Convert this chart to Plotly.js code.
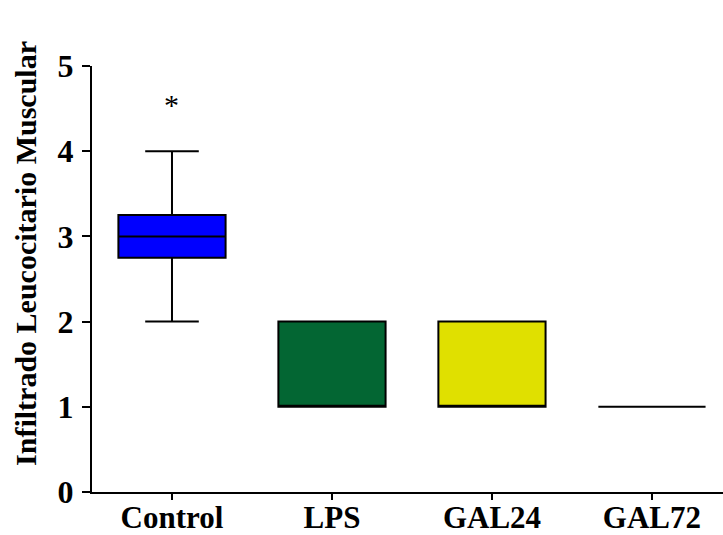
<!DOCTYPE html>
<html>
<head>
<meta charset="utf-8">
<script src="https://cdn.plot.ly/plotly-3.0.1.min.js"></script>
<style>html,body{margin:0;padding:0;background:#fff;}#chart{width:723px;height:535px;}</style>
</head>
<body>
<div id="chart"></div>
<script>
const categories = ["Control", "LPS", "GAL24", "GAL72"];
const lowerFence = [2, 1, 1, 1];
const q1Values = [2.75, 1, 1, 1];
const medianValues = [3, 1, 1, 1];
const q3Values = [3.25, 2, 2, 1];
const upperFence = [4, 2, 2, 1];
const fillColors = ["#0000ff", "#036633", "#e0e000", "#ffffff"];
const yTicks = [0, 1, 2, 3, 4, 5];
const starLabel = "*";
const starY = 4.55;

const font = {family: "Liberation Serif, Times New Roman, serif", color: "#000000"};

const traces = categories.map((c, i) => ({
  type: "box",
  x: [c],
  q1: [q1Values[i]],
  median: [medianValues[i]],
  q3: [q3Values[i]],
  lowerfence: [lowerFence[i]],
  upperfence: [upperFence[i]],
  fillcolor: fillColors[i],
  line: {color: "#000", width: 2},
  width: 0.67,
  whiskerwidth: 0.5,
  boxpoints: false,
  hoverinfo: "skip",
  showlegend: false
}));

const layout = {
  width: 723, height: 535,
  margin: {l: 92, r: 0, t: 66, b: 43},
  paper_bgcolor: "#fff", plot_bgcolor: "#fff",
  showlegend: false,
  xaxis: {
    type: "category",
    categoryarray: categories,
    range: [-0.5, 3.444],
    showline: true, linecolor: "#000", linewidth: 2,
    ticks: "outside", ticklen: 6, tickwidth: 2, tickcolor: "#000",
    ticklabelstandoff: -9,
    showgrid: false, zeroline: false,
    tickfont: Object.assign({size: 31, weight: "bold"}, font),
    fixedrange: true
  },
  yaxis: {
    range: [0, 5],
    tickvals: yTicks,
    showline: true, linecolor: "#000", linewidth: 2,
    ticks: "outside", ticklen: 8, tickwidth: 2, tickcolor: "#000",
    ticklabelstandoff: 2,
    showgrid: false, zeroline: false,
    tickfont: Object.assign({size: 32, weight: "bold"}, font),
    fixedrange: true
  },
  annotations: [
    {x: categories[0], y: starY, xref: "x", yref: "y", text: starLabel, showarrow: false,
     font: Object.assign({size: 30}, font), xanchor: "center", yanchor: "middle"},
    {x: -0.1045, y: 0.559, xref: "paper", yref: "paper", text: "Infiltrado Leucocitario Muscular",
     textangle: -90, showarrow: false, xanchor: "center", yanchor: "middle",
     font: Object.assign({size: 30, weight: "bold"}, font)}
  ]
};

Plotly.newPlot("chart", traces, layout, {displayModeBar: false, staticPlot: true});
</script>
</body>
</html>
